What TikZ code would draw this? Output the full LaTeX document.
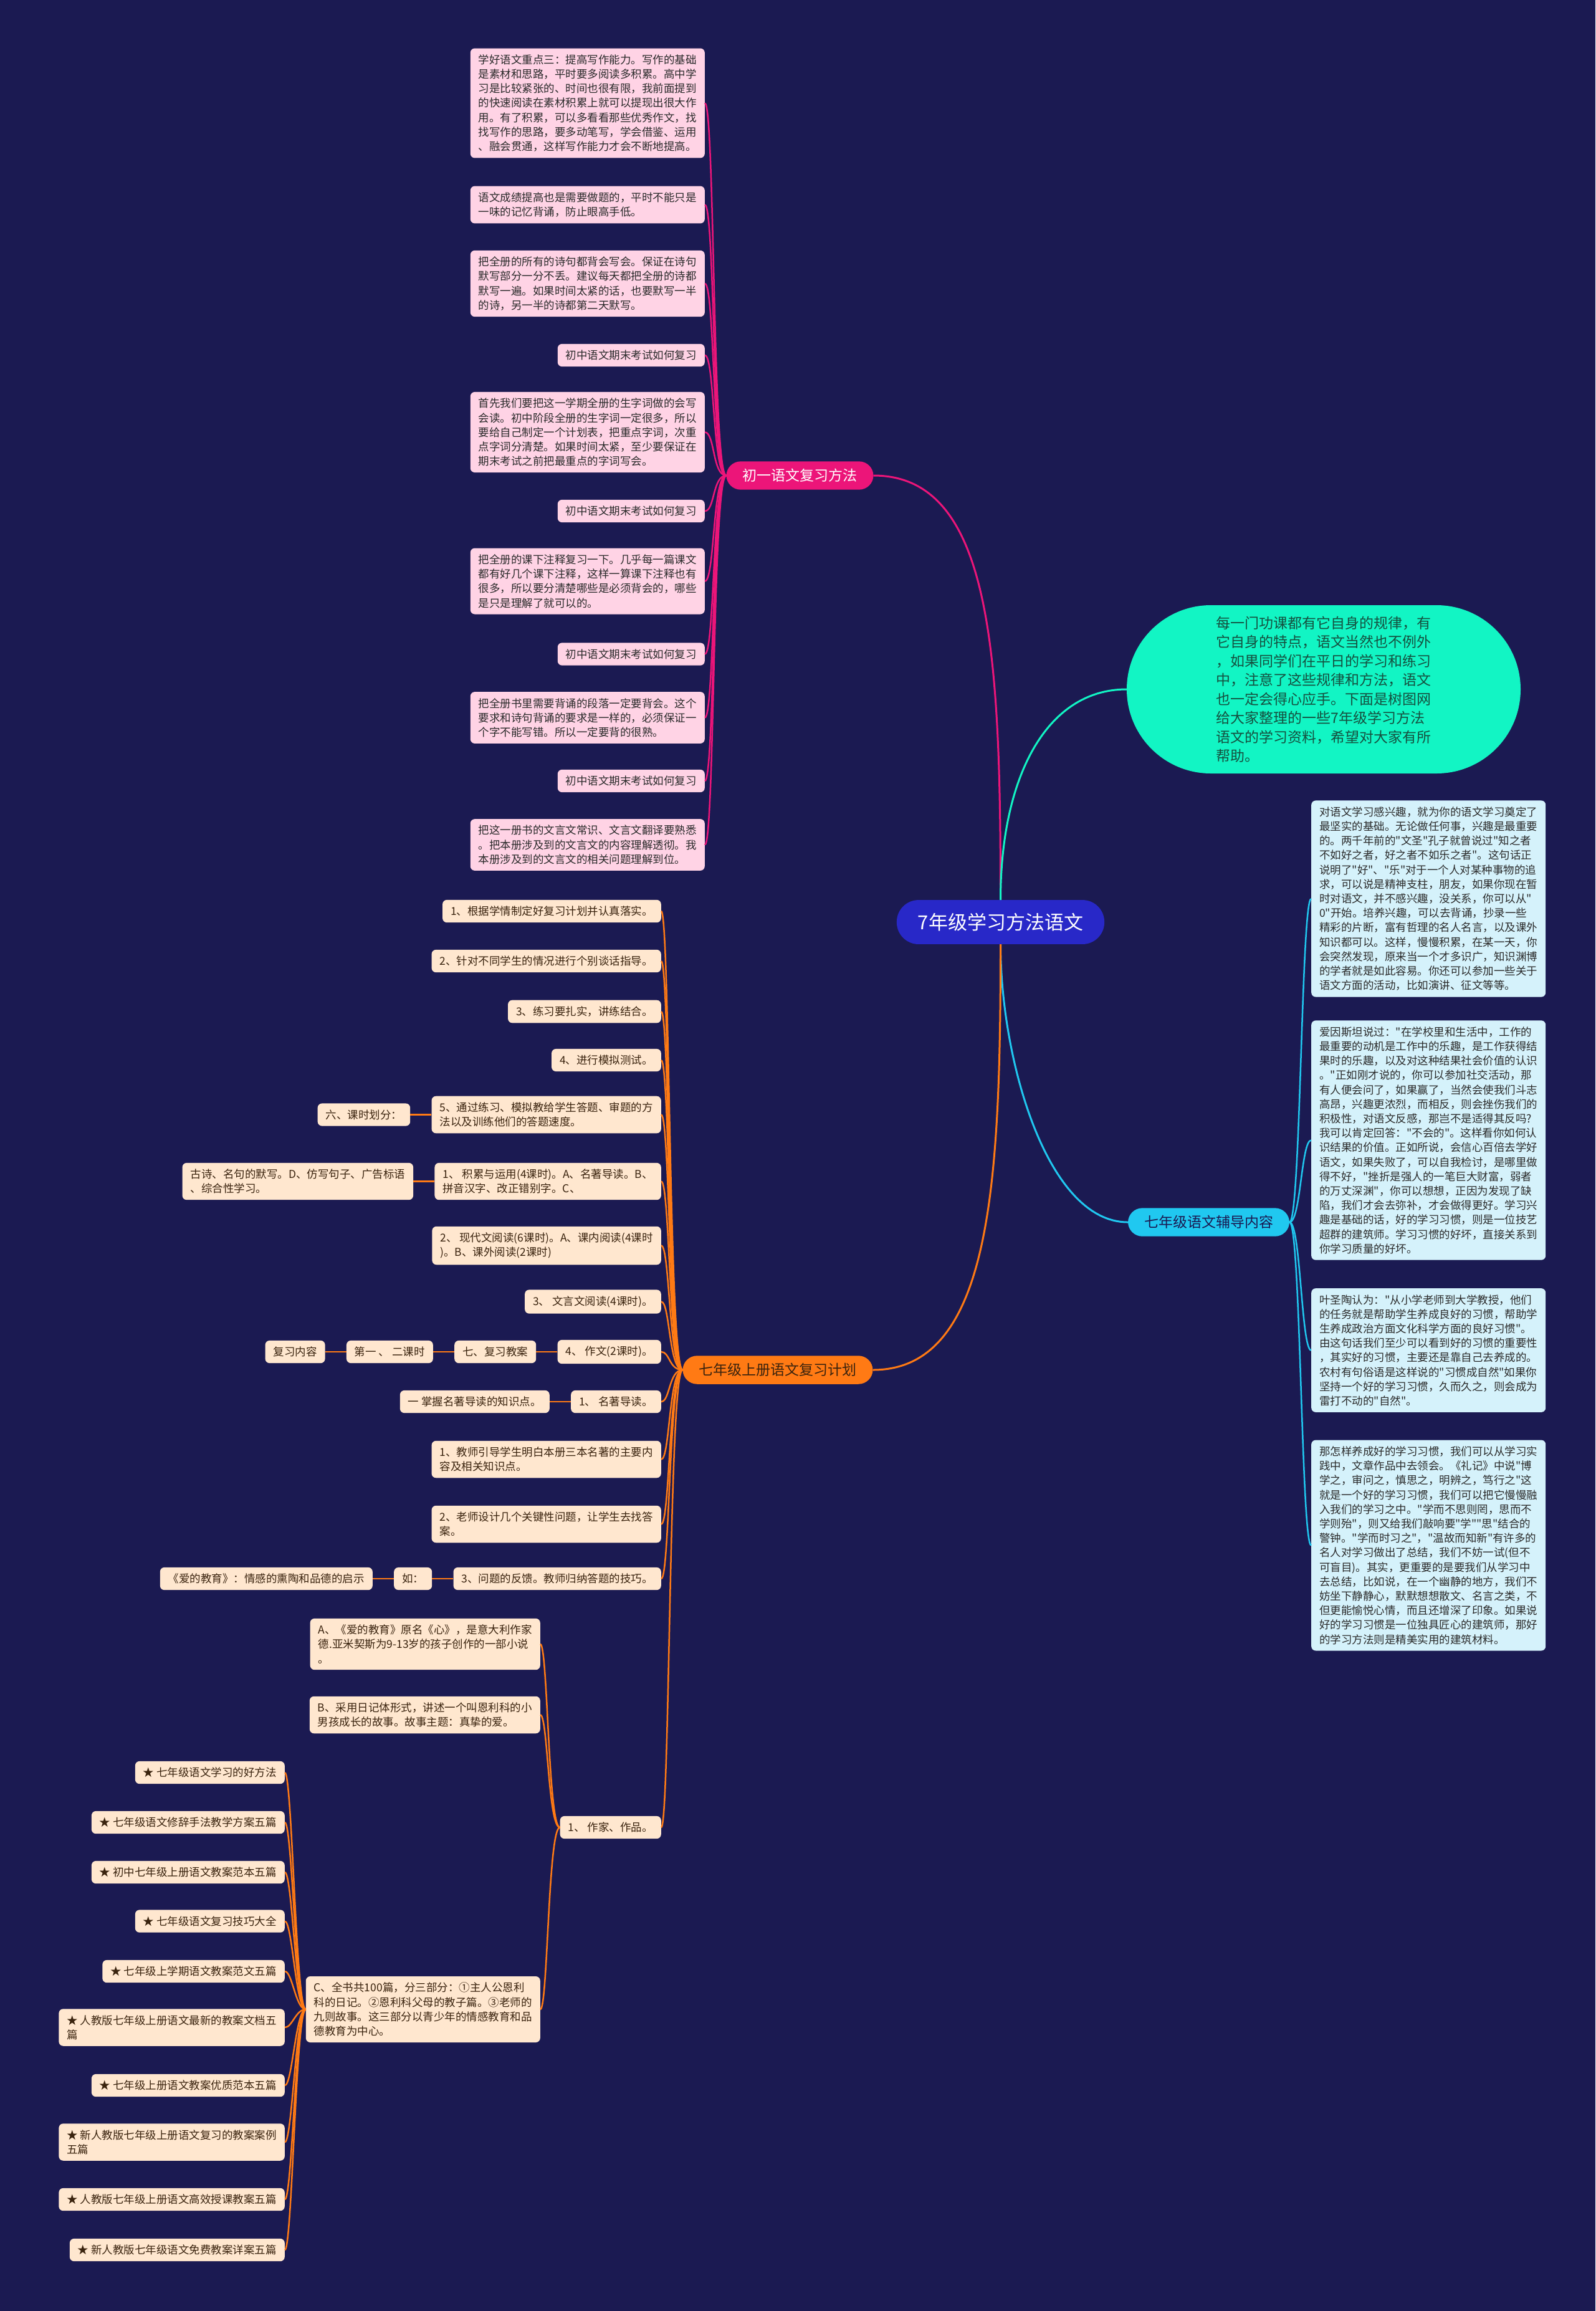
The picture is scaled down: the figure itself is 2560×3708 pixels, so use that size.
\documentclass[tikz,border=0pt]{standalone}
\usepackage{fontspec}
\newfontfamily\cjk{Noto Sans CJK SC}
\usetikzlibrary{positioning}
\definecolor{bgnavy}{HTML}{1B1A52}
\definecolor{rootblue}{HTML}{2828C8}
\definecolor{pinkmain}{HTML}{EC1579}
\definecolor{pinkbox}{HTML}{FFD3E5}
\definecolor{tealmain}{HTML}{12F5C4}
\definecolor{tealtext}{HTML}{15503F}
\definecolor{cyanmain}{HTML}{20C8F0}
\definecolor{cyanbox}{HTML}{D5F2FB}
\definecolor{orangemain}{HTML}{FF7A14}
\definecolor{orangebox}{HTML}{FFE7CF}
\definecolor{boxtext}{HTML}{2A2A2A}
\definecolor{browntext}{HTML}{3A230E}
\newcommand\bodysize{\cjk\fontsize{17.5pt}{23.2pt}\selectfont}
\newcommand\branchsize{\cjk\fontsize{23pt}{28pt}\selectfont}
\begin{document}
\begin{tikzpicture}[x=1pt,y=-1pt,
  txtbox/.style={rounded corners=7pt,inner xsep=13pt,inner ysep=10pt,align=left,font=\bodysize},
  pbox/.style={txtbox,fill=pinkbox,text=boxtext,anchor=east},
  cbox/.style={txtbox,fill=cyanbox,text=boxtext,anchor=west},
  obox/.style={txtbox,fill=orangebox,text=browntext,anchor=east},
  branchnode/.style={rounded corners=23pt,inner xsep=26pt,inner ysep=12pt,font=\branchsize},
  pline/.style={draw=pinkmain,line width=2.5pt},
  cline/.style={draw=cyanmain,line width=2.5pt},
  oline/.style={draw=orangemain,line width=2.5pt}]
\useasboundingbox (0,0) rectangle (2560,3708);
\fill[bgnavy] (0,0) rectangle (2560,3708);

% centre and main branches
\node[fill=rootblue,text=white,rounded corners=35pt,inner xsep=34pt,inner ysep=21pt,font=\cjk\fontsize{31pt}{36pt}\selectfont] (root) at (1605.5,1479.5) {7年级学习方法语文};
\node[branchnode,fill=pinkmain,text=white] (pbr) at (1283.5,763) {初一语文复习方法};
\node[fill=tealmain,text=tealtext,rounded corners=135pt,minimum width=632pt,minimum height=270pt,align=left,font=\cjk\fontsize{23pt}{30.5pt}\selectfont] (intro) at (2124,1106) {每一门功课都有它自身的规律，有\\它自身的特点，语文当然也不例外\\，如果同学们在平日的学习和练习\\中，注意了这些规律和方法，语文\\也一定会得心应手。下面是树图网\\给大家整理的一些7年级学习方法\\语文的学习资料，希望对大家有所\\帮助。};
\node[branchnode,fill=cyanmain,text=bgnavy] (fudao) at (1939.5,1961) {七年级语文辅导内容};
\node[branchnode,fill=orangemain,text=browntext] (plan) at (1248,2198) {七年级上册语文复习计划};

% pink branch
\node[pbox] (p1) at (1131,165.5) {学好语文重点三：提高写作能力。写作的基础\\是素材和思路，平时要多阅读多积累。高中学\\习是比较紧张的、时间也很有限，我前面提到\\的快速阅读在素材积累上就可以提现出很大作\\用。有了积累，可以多看看那些优秀作文，找\\找写作的思路，要多动笔写，学会借鉴、运用\\、融会贯通，这样写作能力才会不断地提高。};
\node[pbox] (p2) at (1131,328.5) {语文成绩提高也是需要做题的，平时不能只是\\一味的记忆背诵，防止眼高手低。};
\node[pbox] (p3) at (1131,455) {把全册的所有的诗句都背会写会。保证在诗句\\默写部分一分不丢。建议每天都把全册的诗都\\默写一遍。如果时间太紧的话，也要默写一半\\的诗，另一半的诗都第二天默写。};
\node[pbox] (p4) at (1131,570) {初中语文期末考试如何复习};
\node[pbox] (p5) at (1131,693.5) {首先我们要把这一学期全册的生字词做的会写\\会读。初中阶段全册的生字词一定很多，所以\\要给自己制定一个计划表，把重点字词，次重\\点字词分清楚。如果时间太紧，至少要保证在\\期末考试之前把最重点的字词写会。};
\node[pbox] (p6) at (1131,820) {初中语文期末考试如何复习};
\node[pbox] (p7) at (1131,932.5) {把全册的课下注释复习一下。几乎每一篇课文\\都有好几个课下注释，这样一算课下注释也有\\很多，所以要分清楚哪些是必须背会的，哪些\\是只是理解了就可以的。};
\node[pbox] (p8) at (1131,1049.5) {初中语文期末考试如何复习};
\node[pbox] (p9) at (1131,1151.5) {把全册书里需要背诵的段落一定要背会。这个\\要求和诗句背诵的要求是一样的，必须保证一\\个字不能写错。所以一定要背的很熟。};
\node[pbox] (p10) at (1131,1253) {初中语文期末考试如何复习};
\node[pbox] (p11) at (1131,1355.5) {把这一册书的文言文常识、文言文翻译要熟悉\\。把本册涉及到的文言文的内容理解透彻。我\\本册涉及到的文言文的相关问题理解到位。};

% cyan branch
\node[cbox] (r1) at (2104,1442) {对语文学习感兴趣，就为你的语文学习奠定了\\最坚实的基础。无论做任何事，兴趣是最重要\\的。两千年前的"文圣"孔子就曾说过"知之者\\不如好之者，好之者不如乐之者"。这句话正\\说明了"好"、"乐"对于一个人对某种事物的追\\求，可以说是精神支柱，朋友，如果你现在暂\\时对语文，并不感兴趣，没关系，你可以从"\\0"开始。培养兴趣，可以去背诵，抄录一些\\精彩的片断，富有哲理的名人名言，以及课外\\知识都可以。这样，慢慢积累，在某一天，你\\会突然发现，原来当一个才多识广，知识渊博\\的学者就是如此容易。你还可以参加一些关于\\语文方面的活动，比如演讲、征文等等。};
\node[cbox] (r2) at (2104,1829.5) {爱因斯坦说过："在学校里和生活中，工作的\\最重要的动机是工作中的乐趣，是工作获得结\\果时的乐趣，以及对这种结果社会价值的认识\\。"正如刚才说的，你可以参加社交活动，那\\有人便会问了，如果赢了，当然会使我们斗志\\高昂，兴趣更浓烈，而相反，则会挫伤我们的\\积极性，对语文反感，那岂不是适得其反吗?\\我可以肯定回答："不会的"。这样看你如何认\\识结果的价值。正如所说，会信心百倍去学好\\语文，如果失败了，可以自我检讨，是哪里做\\得不好，"挫折是强人的一笔巨大财富，弱者\\的万丈深渊"，你可以想想，正因为发现了缺\\陷，我们才会去弥补，才会做得更好。学习兴\\趣是基础的话，好的学习习惯，则是一位技艺\\超群的建筑师。学习习惯的好坏，直接关系到\\你学习质量的好坏。};
\node[cbox] (r3) at (2104,2166.5) {叶圣陶认为："从小学老师到大学教授，他们\\的任务就是帮助学生养成良好的习惯，帮助学\\生养成政治方面文化科学方面的良好习惯"。\\由这句话我们至少可以看到好的习惯的重要性\\，其实好的习惯，主要还是靠自己去养成的。\\农村有句俗语是这样说的"习惯成自然"如果你\\坚持一个好的学习习惯，久而久之，则会成为\\雷打不动的"自然"。};
\node[cbox] (r4) at (2104,2479.5) {那怎样养成好的学习习惯，我们可以从学习实\\践中，文章作品中去领会。《礼记》中说"博\\学之，审问之，慎思之，明辨之，笃行之"这\\就是一个好的学习习惯，我们可以把它慢慢融\\入我们的学习之中。"学而不思则罔，思而不\\学则殆"，则又给我们敲响要"学""思"结合的\\警钟。"学而时习之"，"温故而知新"有许多的\\名人对学习做出了总结，我们不妨一试(但不\\可盲目)。其实，更重要的是要我们从学习中\\去总结，比如说，在一个幽静的地方，我们不\\妨坐下静静心，默默想想散文、名言之类，不\\但更能愉悦心情，而且还增深了印象。如果说\\好的学习习惯是一位独具匠心的建筑师，那好\\的学习方法则是精美实用的建筑材料。};

% orange branch
\node[obox] (o1) at (1061,1462) {1、根据学情制定好复习计划并认真落实。};
\node[obox] (o2) at (1061,1542) {2、针对不同学生的情况进行个别谈话指导。};
\node[obox] (o3) at (1061,1623) {3、练习要扎实，讲练结合。};
\node[obox] (o4) at (1061,1701) {4、进行模拟测试。};
\node[obox] (o5) at (1061,1788.5) {5、通过练习、模拟教给学生答题、审题的方\\法以及训练他们的答题速度。};
\node[obox,left=34pt of o5] (o5a) {六、课时划分：};
\node[obox] (o6) at (1061,1895.5) {1、 积累与运用(4课时)。A、名著导读。B、\\拼音汉字、改正错别字。C、};
\node[obox,left=34pt of o6] (o6a) {古诗、名句的默写。D、仿写句子、广告标语\\、综合性学习。};
\node[obox] (o7) at (1061,1998.5) {2、 现代文阅读(6课时)。A、课内阅读(4课时\\)。B、课外阅读(2课时)};
\node[obox] (o8) at (1061,2088.5) {3、 文言文阅读(4课时)。};
\node[obox] (o9) at (1061,2169) {4、 作文(2课时)。};
\node[obox,left=34pt of o9] (o9a) {七、复习教案};
\node[obox,left=34pt of o9a] (o9b) {第一 、 二课时};
\node[obox,left=34pt of o9b] (o9c) {复习内容};
\node[obox] (o10) at (1061,2249) {1、 名著导读。};
\node[obox,left=34pt of o10] (o10a) {一 掌握名著导读的知识点。};
\node[obox] (o11) at (1061,2341.5) {1、教师引导学生明白本册三本名著的主要内\\容及相关知识点。};
\node[obox] (o12) at (1061,2445.5) {2、老师设计几个关键性问题，让学生去找答\\案。};
\node[obox] (o13) at (1061,2533) {3、问题的反馈。教师归纳答题的技巧。};
\node[obox,left=34pt of o13] (o13a) {如：};
\node[obox,left=34pt of o13a] (o13b) {《爱的教育》：情感的熏陶和品德的启示};
\node[obox] (o14) at (1061,2932) {1、 作家、作品。};
\node[obox] (oa) at (867,2638) {A、《爱的教育》原名《心》，是意大利作家\\德.亚米契斯为9-13岁的孩子创作的一部小说\\。};
\node[obox] (ob) at (867,2751.5) {B、采用日记体形式，讲述一个叫恩利科的小\\男孩成长的故事。故事主题：真挚的爱。};
\node[obox] (oc) at (867,3224) {C、全书共100篇，分三部分：①主人公恩利\\科的日记。②恩利科父母的教子篇。③老师的\\九则故事。这三部分以青少年的情感教育和品\\德教育为中心。};
\node[obox] (s1) at (457,2844) {★ 七年级语文学习的好方法};
\node[obox] (s2) at (457,2924) {★ 七年级语文修辞手法教学方案五篇};
\node[obox] (s3) at (457,3004) {★ 初中七年级上册语文教案范本五篇};
\node[obox] (s4) at (457,3082.5) {★ 七年级语文复习技巧大全};
\node[obox] (s5) at (457,3163) {★ 七年级上学期语文教案范文五篇};
\node[obox] (s6) at (457,3253) {★ 人教版七年级上册语文最新的教案文档五\\篇};
\node[obox] (s7) at (457,3346) {★ 七年级上册语文教案优质范本五篇};
\node[obox] (s8) at (457,3437) {★ 新人教版七年级上册语文复习的教案案例\\五篇};
\node[obox] (s9) at (457,3529) {★ 人教版七年级上册语文高效授课教案五篇};
\node[obox] (s10) at (457,3610) {★ 新人教版七年级语文免费教案详案五篇};

% connectors
\draw[pline,line width=3pt] (root) .. controls +(0,-430) and +(190,0) .. (pbr.east);
\draw[draw=tealmain,line width=3pt] (root) .. controls +(0,-230) and +(-130,0) .. (intro.west);
\draw[cline,line width=3pt] (root) .. controls +(0,220) and +(-130,0) .. (fudao.west);
\draw[oline,line width=3pt] (root) .. controls +(0,420) and +(190,0) .. (plan.east);
\foreach \i in {1,...,11}
  \draw[pline] (pbr.west) .. controls +(-22,0) and +(16,0) .. (p\i.east);
\foreach \i in {1,...,4}
  \draw[cline] (fudao.east) .. controls +(18,0) and +(-16,0) .. (r\i.west);
\foreach \i in {1,...,14}
  \draw[oline] (plan.west) .. controls +(-22,0) and +(14,0) .. (o\i.east);
\draw[oline] (o5.west) -- (o5a.east);
\draw[oline] (o6.west) -- (o6a.east);
\draw[oline] (o9.west) -- (o9a.east);
\draw[oline] (o9a.west) -- (o9b.east);
\draw[oline] (o9b.west) -- (o9c.east);
\draw[oline] (o10.west) -- (o10a.east);
\draw[oline] (o13.west) -- (o13a.east);
\draw[oline] (o13a.west) -- (o13b.east);
\foreach \n in {oa,ob,oc}
  \draw[oline] (o14.west) .. controls +(-19,0) and +(12,0) .. (\n.east);
\foreach \i in {1,...,10}
  \draw[oline] (oc.west) .. controls +(-16,0) and +(12,0) .. (s\i.east);
\end{tikzpicture}
\end{document}
